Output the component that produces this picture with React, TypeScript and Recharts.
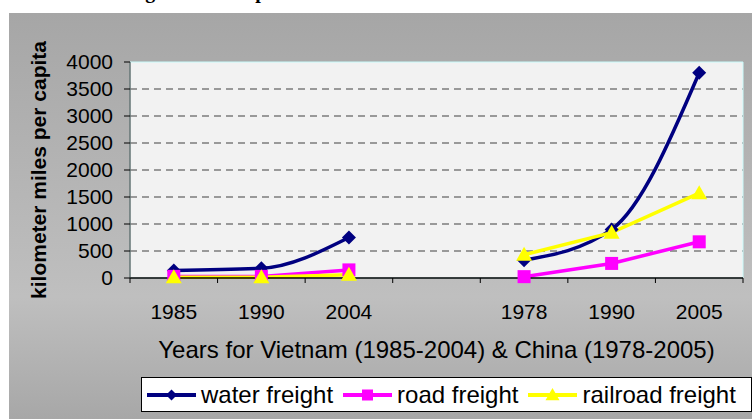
import React from 'react';
import { LineChart, Line, XAxis, YAxis, CartesianGrid, ReferenceArea, Label } from 'recharts';

// Vietnam years, a gap slot, then China years
const years = ['1985', '1990', '2004', '', '1978', '1990', '2005'];
const waterFreight = [140, 180, 750, null, 330, 900, 3800];
const roadFreight = [30, 30, 150, null, 25, 270, 670];
const railroadFreight = [15, 15, 60, null, 430, 840, 1570];
const yTicks = [0, 500, 1000, 1500, 2000, 2500, 3000, 3500, 4000];
const gridValues = [500, 1000, 1500, 2000, 2500, 3000, 3500];

const seriesNames = ['water freight', 'road freight', 'railroad freight'];
const seriesColors = ['#000080', '#FF00FF', '#FFFF00'];

const data = years.map((year, i) => ({
  pos: i + 0.5,
  year,
  water: waterFreight[i],
  road: roadFreight[i],
  rail: railroadFreight[i],
}));

// boundaries get a tick line, slot centres get the year label
const xTicks = Array.from({ length: years.length * 2 + 1 }, (_, i) => i / 2);

const FONT = 'Arial, "Liberation Sans", sans-serif';

const XTick = (props: any) => {
  const { x, y, payload } = props;
  const v = payload.value;
  if (Number.isInteger(v)) {
    return <line x1={x} x2={x} y1={y} y2={y + 5} stroke="#000" strokeWidth={1} />;
  }
  return (
    <text x={x} y={y + 41} textAnchor="middle" fontSize={21} fontFamily={FONT} fill="#000">
      {years[Math.floor(v)]}
    </text>
  );
};

const Diamond = ({ cx, cy, size = 7 }: any) =>
  cx == null || cy == null || isNaN(cy) ? null : (
    <polygon
      points={`${cx},${cy - size} ${cx + size},${cy} ${cx},${cy + size} ${cx - size},${cy}`}
      fill="#000080"
    />
  );

const Square = ({ cx, cy, size = 6.5 }: any) =>
  cx == null || cy == null || isNaN(cy) ? null : (
    <rect x={cx - size} y={cy - size} width={size * 2} height={size * 2} fill="#FF00FF" />
  );

const Triangle = ({ cx, cy, size = 8 }: any) =>
  cx == null || cy == null || isNaN(cy) ? null : (
    <polygon
      points={`${cx},${cy - size} ${cx + size},${cy + size * 0.75} ${cx - size},${cy + size * 0.75}`}
      fill="#FFFF00"
    />
  );

const markers = [Diamond, Square, Triangle];

const YTitle = ({ viewBox }: any) => {
  const cx = 38;
  const cy = viewBox.y + viewBox.height / 2;
  return (
    <text
      x={cx}
      y={cy}
      transform={`rotate(-90 ${cx} ${cy})`}
      textAnchor="middle"
      dominantBaseline="central"
      fontSize={21}
      fontWeight="bold"
      fontFamily={FONT}
      fill="#000"
    >
      kilometer miles per capita
    </text>
  );
};

const XTitle = ({ viewBox }: any) => (
  <text
    x={viewBox.x + viewBox.width / 2}
    y={viewBox.y + 80}
    textAnchor="middle"
    fontSize={24}
    fontFamily={FONT}
    fill="#000"
  >
    Years for Vietnam (1985-2004) &amp; China (1978-2005)
  </text>
);

const LegendBox = () => (
  <div
    style={{
      position: 'absolute',
      left: 141,
      top: 377,
      width: 604,
      height: 33,
      background: '#fff',
      border: '1px solid #000',
      display: 'flex',
      alignItems: 'center',
      paddingLeft: 5,
      boxSizing: 'content-box',
      fontFamily: FONT,
      fontSize: 24,
      color: '#000',
      whiteSpace: 'nowrap',
    }}
  >
    {seriesNames.map((name, i) => {
      const Marker = markers[i];
      return (
        <div key={name} style={{ display: 'flex', alignItems: 'center', marginRight: 10 }}>
          <svg width={49} height={18} style={{ marginRight: 5 }}>
            <line x1={0} x2={49} y1={9} y2={9} stroke={seriesColors[i]} strokeWidth={4} />
            <Marker cx={24.5} cy={9} size={i === 2 ? 7 : 5.5} />
          </svg>
          <span style={{ lineHeight: '33px' }}>{name}</span>
        </div>
      );
    })}
  </div>
);

export default function App() {
  return (
    <div style={{ position: 'fixed', left: 0, top: 0, width: 752, height: 419, overflow: 'hidden', background: '#fff' }}>
      {/* caption above the chart, cut off by the page top as in the source */}
      <div
        style={{
          position: 'absolute',
          left: 110,
          top: -19,
          fontFamily: '"Liberation Serif", "Times New Roman", serif',
          fontWeight: 'bold',
          fontSize: 20,
          lineHeight: '20px',
          whiteSpace: 'nowrap',
        }}
      >
        Freight Volumes per Person
      </div>
      <div
        style={{
          position: 'absolute',
          left: 9,
          top: 13,
          width: 743,
          height: 406,
          background: 'linear-gradient(to bottom, #a6a6a6 0%, #bfbfbf 70%, #a7a7a7 100%)',
        }}
      />
      <div style={{ position: 'absolute', left: 0, top: 0 }}>
        <LineChart width={752} height={419} data={data} margin={{ top: 62, right: 9, bottom: 101, left: 10 }}>
          <CartesianGrid
            vertical={false}
            horizontalValues={gridValues}
            fill="#f2f2f2"
            stroke="#404040"
            strokeDasharray="7 5"
          />
          <ReferenceArea x1={0} x2={7} y1={0} y2={4000} fill="none" stroke="#c8fafa" strokeWidth={1} />
          <XAxis
            dataKey="pos"
            type="number"
            domain={[0, 7]}
            ticks={xTicks}
            interval={0}
            tick={<XTick />}
            tickLine={false}
            tickSize={0}
            tickMargin={0}
            height={40}
            axisLine={{ stroke: '#000', strokeWidth: 1.5 }}
          >
            <Label content={<XTitle />} />
          </XAxis>
          <YAxis
            domain={[0, 4000]}
            ticks={yTicks}
            interval={0}
            width={120}
            tickSize={6}
            tickMargin={11}
            tick={{ fontSize: 21, fill: '#000', fontFamily: FONT }}
            tickLine={{ stroke: '#000' }}
            axisLine={{ stroke: '#333' }}
          >
            <Label content={<YTitle />} />
          </YAxis>
          <Line
            dataKey="water"
            type="monotone"
            stroke="#000080"
            strokeWidth={3.5}
            dot={<Diamond />}
            activeDot={false}
            isAnimationActive={false}
          />
          <Line
            dataKey="road"
            type="linear"
            stroke="#FF00FF"
            strokeWidth={3.5}
            dot={<Square />}
            activeDot={false}
            isAnimationActive={false}
          />
          <Line
            dataKey="rail"
            type="linear"
            stroke="#FFFF00"
            strokeWidth={3.5}
            dot={<Triangle />}
            activeDot={false}
            isAnimationActive={false}
          />
        </LineChart>
      </div>
      <LegendBox />
    </div>
  );
}
